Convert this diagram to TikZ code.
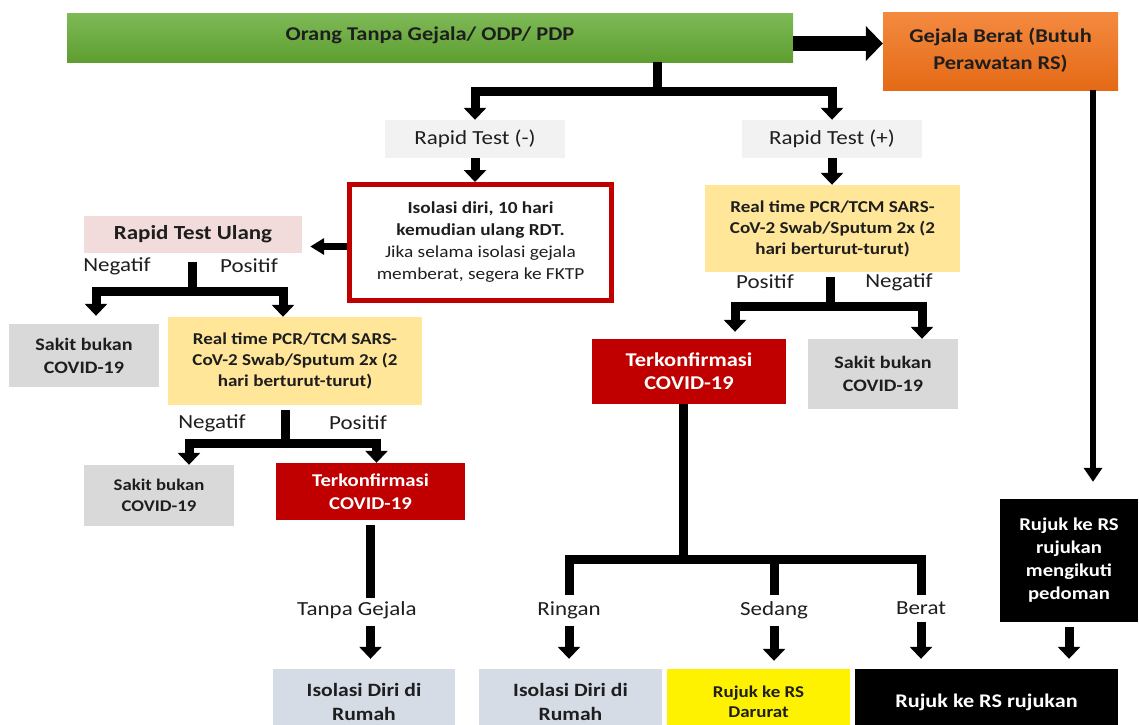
\documentclass[tikz,border=0pt]{standalone}
\usepackage{fontspec}
\setmainfont{Carlito}[FakeStretch=1.15]
\usetikzlibrary{arrows.meta}

\definecolor{greenTop}{HTML}{7EBA57}
\definecolor{greenBot}{HTML}{5E9E30}
\definecolor{orangeTop}{HTML}{F48A40}
\definecolor{orangeBot}{HTML}{E46A16}
\definecolor{paleGrey}{HTML}{F2F2F2}
\definecolor{midGrey}{HTML}{D9D9D9}
\definecolor{darkRed}{HTML}{C00000}
\definecolor{paleRose}{HTML}{F2DCDB}
\definecolor{paleGold}{HTML}{FFE699}
\definecolor{slateBlue}{HTML}{D6DCE5}
\definecolor{inkText}{HTML}{1E1E1E}

\begin{document}
\begin{tikzpicture}[
    x=1pt, y=-1pt,
    cell/.style={inner sep=0pt, align=center, text=inkText,
                 font=\bfseries\fontsize{16.6}{21}\selectfont},
    lbl/.style={inner sep=1pt, text=inkText, font=\fontsize{20}{22}\selectfont},
    stem/.style={line width=9pt},
    flow/.style={line width=9pt, -{Triangle[width=22pt,length=12pt]}},
    slim/.style={line width=6pt, -{Triangle[width=18pt,length=14pt]}},
    wide/.style={line width=15pt, -{Triangle[width=34pt,length=17pt]}}
]
\useasboundingbox (0,0) rectangle (1139,724);

% --- top ---
\node[cell, top color=greenTop, bottom color=greenBot,
      minimum width=726pt, minimum height=49pt,
      font=\bfseries\fontsize{19.5}{22}\selectfont] (start) at (430,37.5)
      {\raisebox{7pt}{Orang Tanpa Gejala/ ODP/ PDP}};
\node[cell, top color=orangeTop, bottom color=orangeBot,
      minimum width=235pt, minimum height=78pt,
      font=\bfseries\fontsize{19.5}{27}\selectfont] (severe) at (1000.5,51)
      {\raisebox{6pt}{\begin{tabular}{@{}c@{}}Gejala Berat (Butuh\\Perawatan RS)\end{tabular}}};

% --- rapid tests ---
\node[cell, fill=paleGrey, minimum width=180pt, minimum height=38pt,
      font=\fontsize{20}{22}\selectfont] (rtneg) at (475,139) {Rapid Test (-)};
\node[cell, fill=paleGrey, minimum width=180pt, minimum height=38pt,
      font=\fontsize{20}{22}\selectfont] (rtpos) at (832,139) {Rapid Test (+)};

% --- left branch ---
\node[cell, draw=darkRed, line width=5pt, minimum width=262pt, minimum height=116pt,
      font=\fontsize{16.8}{22}\selectfont] (selfiso) at (480.5,242.5)
      {\textbf{Isolasi diri, 10 hari}\\\textbf{kemudian ulang RDT.}\\Jika selama isolasi gejala\\memberat, segera ke FKTP};
\node[cell, fill=paleRose, minimum width=218pt, minimum height=37pt,
      font=\bfseries\fontsize{20}{22}\selectfont] (retest) at (193,234.5) {Rapid Test Ulang};
\node[cell, fill=midGrey, minimum width=150pt, minimum height=63pt,
      font=\bfseries\fontsize{17.5}{23}\selectfont] (notcovA) at (84,355.5)
      {Sakit bukan\\COVID-19};
\node[cell, fill=paleGold, minimum width=254pt, minimum height=88pt] (pcrL) at (295,361)
      {Real time PCR/TCM SARS-\\CoV-2 Swab/Sputum 2x (2\\hari berturut-turut)};
\node[cell, fill=midGrey, minimum width=150pt, minimum height=61pt,
      font=\bfseries\fontsize{16.3}{21}\selectfont] (notcovB) at (159,495.5)
      {Sakit bukan\\COVID-19};
\node[cell, fill=darkRed, text=white, minimum width=189pt, minimum height=57pt,
      font=\bfseries\fontsize{18}{23}\selectfont] (confL) at (370.5,491.5)
      {Terkonfirmasi\\COVID-19};
\node[cell, fill=slateBlue, minimum width=182pt, minimum height=66pt,
      font=\bfseries\fontsize{18.8}{24}\selectfont] (homeL) at (364,702)
      {Isolasi Diri di\\Rumah};

% --- right branch ---
\node[cell, fill=paleGold, minimum width=255pt, minimum height=87pt] (pcrR) at (832.5,228.5)
      {Real time PCR/TCM SARS-\\CoV-2 Swab/Sputum 2x (2\\hari berturut-turut)};
\node[cell, fill=darkRed, text=white, minimum width=194pt, minimum height=65pt,
      font=\bfseries\fontsize{19.5}{23}\selectfont] (confR) at (689,371.5)
      {Terkonfirmasi\\COVID-19};
\node[cell, fill=midGrey, minimum width=150pt, minimum height=70pt,
      font=\bfseries\fontsize{17.5}{23}\selectfont] (notcovC) at (883,374)
      {Sakit bukan\\COVID-19};
\node[cell, fill=slateBlue, minimum width=183pt, minimum height=66pt,
      font=\bfseries\fontsize{18.8}{24}\selectfont] (homeR) at (570.5,702)
      {Isolasi Diri di\\Rumah};
\node[cell, fill=yellow, minimum width=183pt, minimum height=66pt,
      font=\bfseries\fontsize{16.5}{20}\selectfont] (emerg) at (758.5,702)
      {Rujuk ke RS\\Darurat};
\node[cell, fill=black, text=white, minimum width=263pt, minimum height=66pt,
      font=\bfseries\fontsize{19.3}{22}\selectfont] (referral) at (986.5,702)
      {Rujuk ke RS rujukan};
\node[cell, fill=black, text=white, minimum width=138pt, minimum height=123pt,
      font=\bfseries\fontsize{18}{23}\selectfont] (guide) at (1069,560.5)
      {Rujuk ke RS\\rujukan\\mengikuti\\pedoman};

% --- labels ---
\node[lbl] (negA) at (117,266) {Negatif};
\node[lbl] (posA) at (249,266) {Positif};
\node[lbl] (negB) at (212,423) {Negatif};
\node[lbl] (posB) at (358,423) {Positif};
\node[lbl] (posC) at (765,282) {Positif};
\node[lbl] (negC) at (899,282) {Negatif};
\node[lbl] (noSym) at (357,610) {Tanpa Gejala};
\node[lbl] (mild) at (569,610) {Ringan};
\node[lbl] (moderate) at (774,610) {Sedang};
\node[lbl] (heavy) at (921,608) {Berat};

% --- split points ---
\coordinate (splitTop) at (657,91);
\coordinate (splitRT) at (192,291);
\coordinate (splitPL) at (285,443);
\coordinate (splitPR) at (830,306);
\coordinate (splitCR) at (683,559);
\coordinate (railR) at (1093,0);

% --- connectors ---
\draw[wide] ([yshift=-6pt]start.east) -- ([yshift=-6pt]start.east -| severe.west);
\draw[stem] (start.south -| splitTop) -- (splitTop);
\draw[flow] (splitTop) -| (rtneg.north);
\draw[flow] (splitTop) -| (rtpos.north);

\draw[flow] (rtneg.south) -- (rtneg.south |- selfiso.north);
\draw[line width=7pt, -{Triangle[width=16pt,length=14pt]}, shorten >=8pt]
    ([yshift=-4pt]selfiso.west) -- ([yshift=-4pt]selfiso.west -| retest.east);
\draw[stem, shorten <=9pt] (retest.south -| splitRT) -- (splitRT);
\draw[flow, shorten >=8pt] (splitRT) -| ([xshift=12pt]notcovA.north);
\draw[flow] (splitRT) -| ([xshift=-12pt]pcrL.north);
\draw[stem, shorten <=5pt] (pcrL.south -| splitPL) -- (splitPL);
\draw[flow] (splitPL) -| ([xshift=30pt]notcovB.north);
\draw[flow] (splitPL) -| ([xshift=6pt]confL.north);
\draw[stem, shorten <=5pt, shorten >=2pt] (confL.south) -- (confL.south |- noSym.north);
\draw[flow, shorten <=6pt, shorten >=10pt] (noSym.south -| confL.south) -- (homeL.north -| confL.south);

\draw[flow] (rtpos.south) -- (rtpos.south |- pcrR.north);
\draw[stem, shorten <=5pt] (pcrR.south -| splitPR) -- (splitPR);
\draw[flow, shorten >=7pt] (splitPR) -| ([xshift=46pt]confR.north);
\draw[flow] (splitPR) -| ([xshift=39pt]notcovC.north);
\draw[stem] (confR.south -| splitCR) -- (splitCR);
\draw[stem, shorten >=5pt] (splitCR) -| (mild.north);
\draw[stem, shorten >=5pt] (splitCR) -| (moderate.north);
\draw[stem, shorten >=5pt] (splitCR) -| (heavy.north);
\draw[flow, shorten <=6pt, shorten >=10pt] (mild.south) -- (mild.south |- homeR.north);
\draw[flow, shorten <=6pt, shorten >=8pt] (moderate.south) -- (moderate.south |- emerg.north);
\draw[flow, shorten <=6pt, shorten >=10pt] (heavy.south) -- (heavy.south |- referral.north);
\draw[slim] (severe.south -| railR) -- ([yshift=17pt]guide.north -| railR);
\draw[flow, shorten <=5pt, shorten >=10pt] (guide.south) -- (guide.south |- referral.north);

\end{tikzpicture}
\end{document}
